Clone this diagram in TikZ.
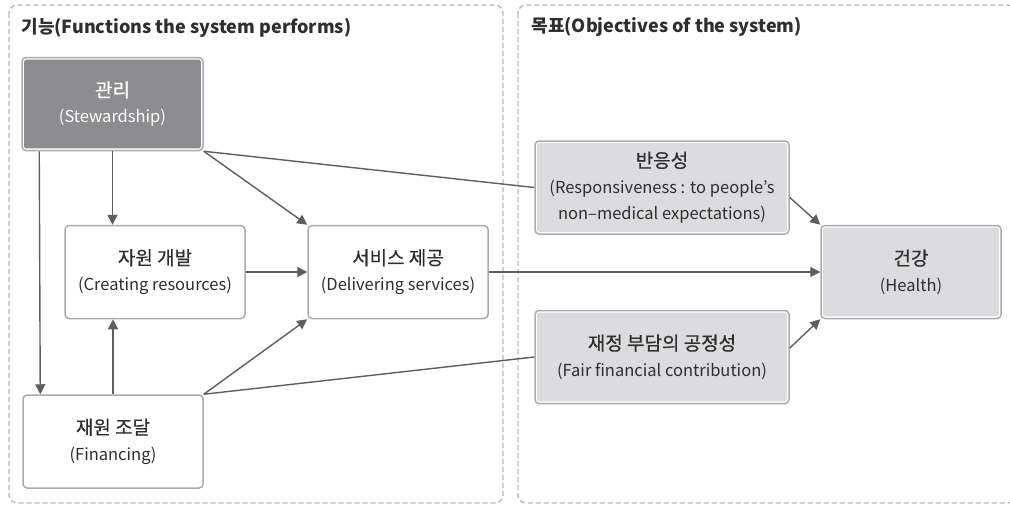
\documentclass[tikz,border=0pt]{standalone}
\usepackage{fontspec}
\setmainfont{Noto Sans CJK KR}
\newfontfamily\korfont[FakeBold=0.5]{Noto Sans CJK KR}
\usetikzlibrary{arrows.meta}
\definecolor{framegray}{HTML}{B8B8BA}
\definecolor{boxline}{HTML}{ABABAD}
\definecolor{darkfill}{HTML}{8D8D90}
\definecolor{lightfill}{HTML}{DCDCDE}
\definecolor{arrowgray}{HTML}{5E5E60}
\definecolor{textgray}{HTML}{2E2E2E}
\tikzset{
    box/.style={draw=boxline, line width=1.5pt, rounded corners=4pt, fill=white,
        minimum height=93pt, inner sep=0pt, align=center,
        font=\fontsize{16.5}{26}\selectfont,
        path picture={\fill[#1, rounded corners=2pt]
            ([shift={(2.2pt,2.2pt)}]path picture bounding box.south west) rectangle
            ([shift={(-2.2pt,-2.2pt)}]path picture bounding box.north east);}},
    link/.style={draw=arrowgray, line width=1.4pt},
    arr/.style={link, -{Triangle[length=10pt,width=10pt]}},
    zone/.style={draw=framegray, line width=1.4pt, rounded corners=8pt, dash pattern=on 5pt off 3pt},
    heading/.style={anchor=west, text=textgray, font=\fontsize{18}{20}\selectfont\bfseries}
}
\begin{document}
\begin{tikzpicture}[x=1pt, y=-1pt]
    \useasboundingbox (0,0) rectangle (1010,504);
    \draw[zone] (9,5) rectangle (503,503);
    \draw[zone] (518,5) rectangle (1016,503);
    \node[heading] (ftitle) at (18,28) {기능(Functions the system performs)};
    \node[heading] (otitle) at (528,27) {목표(Objectives of the system)};
    \foreach \name/\x/\y/\w/\shade/\ink/\kor/\eng in {
        stew/112.5/104/181/darkfill/white/관리/(Stewardship),
        res/155/272/180/white/textgray/자원 개발/(Creating resources),
        serv/398/272/180/white/textgray/서비스 제공/(Delivering services),
        fin/113/441.5/180/white/textgray/재원 조달/(Financing),
        resp/662/187.5/254/lightfill/textgray/반응성/(Responsiveness : to people’s\\non–medical expectations),
        fair/662/357/254/lightfill/textgray/재정 부담의 공정성/(Fair financial contribution),
        health/911/272/180/lightfill/textgray/건강/(Health)
    } {
        \node[box=\shade, minimum width=\w pt, text=\ink] (\name) at (\x,\y)
            {{\korfont\fontsize{19}{26}\selectfont\kor}\\\eng};
    }
    \draw[arr] (stew.south) -- (stew.south |- res.north);
    \draw[arr] ([xshift=18pt]stew.south west) -- ([xshift=18pt]fin.north west);
    \draw[arr] (stew.south east) -- (serv.north west);
    \draw[link] (stew.south east) -- (resp.west);
    \draw[arr] (res.east) -- (serv.west);
    \draw[arr] (fin.north) -- (fin.north |- res.south);
    \draw[arr] (fin.north east) -- (serv.south west);
    \draw[link] (fin.north east) -- (fair.west);
    \draw[arr] (serv.east) -- (health.west);
    \draw[arr] ([yshift=-10pt]resp.east) -- (health.north west);
    \draw[arr] ([yshift=9pt]fair.east) -- (health.south west);
\end{tikzpicture}
\end{document}
